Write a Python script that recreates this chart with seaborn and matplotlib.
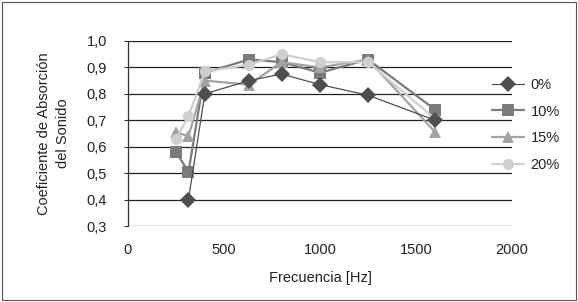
import pandas as pd
import matplotlib
matplotlib.use("Agg")
import matplotlib.pyplot as plt
import seaborn as sns
from matplotlib.ticker import FuncFormatter

# values
freq = [250, 315, 400, 630, 800, 1000, 1250, 1600]
freq_0 = [315, 400, 630, 800, 1000, 1250, 1600]
abs_0 = [0.40, 0.80, 0.85, 0.875, 0.835, 0.795, 0.70]
abs_10 = [0.58, 0.505, 0.88, 0.93, 0.92, 0.88, 0.93, 0.74]
abs_15 = [0.655, 0.64, 0.85, 0.835, 0.92, 0.90, 0.93, 0.655]
abs_20 = [0.63, 0.715, 0.885, 0.91, 0.95, 0.92, 0.92, 0.705]

labels = ["0%", "10%", "15%", "20%"]
series = {
    "0%": (freq_0, abs_0),
    "10%": (freq, abs_10),
    "15%": (freq, abs_15),
    "20%": (freq, abs_20),
}
colors = {"0%": "#4f4f4f", "10%": "#7b7b7b", "15%": "#a3a3a3", "20%": "#cfcfcf"}
markers = {"0%": "D", "10%": "s", "15%": "^", "20%": "o"}
widths = {"0%": 0.9, "10%": 1.6, "15%": 1.6, "20%": 1.6}
zorders = {"0%": 6, "10%": 3, "15%": 4, "20%": 5}

sns.set_style("white")
plt.rcParams["font.family"] = ["Liberation Sans", "DejaVu Sans"]
fs = 10.5

fig = plt.figure(figsize=(5.78, 3.02), dpi=100)
ax = fig.add_axes([128 / 578, 1 - 226 / 302, (512 - 128) / 578, (226 - 41) / 302])

for lab in labels:
    x, y = series[lab]
    df = pd.DataFrame({"Frecuencia": x, "Absorcion": y})
    sns.lineplot(data=df, x="Frecuencia", y="Absorcion", ax=ax,
                 color=colors[lab], marker=markers[lab], markersize=8,
                 markeredgewidth=0, linewidth=widths[lab], zorder=zorders[lab],
                 label=lab, clip_on=False)

ax.set_xlim(0, 2000)
ax.set_ylim(0.3, 1.0)
ax.set_xticks([0, 500, 1000, 1500, 2000])
ax.set_yticks([0.3, 0.4, 0.5, 0.6, 0.7, 0.8, 0.9, 1.0])
ax.yaxis.set_major_formatter(FuncFormatter(lambda v, p: f"{v:.1f}".replace(".", ",")))
ax.grid(axis="y", color="#222222", linewidth=0.9)
ax.grid(axis="x", visible=False)
for s in ["top", "right", "bottom"]:
    ax.spines[s].set_visible(False)
ax.spines["left"].set_color("#333333")
ax.spines["left"].set_linewidth(0.9)
ax.tick_params(axis="y", left=True, length=3, color="#333333", labelsize=fs, pad=12, labelcolor="#222222")
ax.tick_params(axis="x", bottom=False, labelsize=fs, pad=9, labelcolor="#222222")
ax.set_xlabel("Frecuencia [Hz]", fontsize=fs, color="#222222", labelpad=10)
ax.set_ylabel("Coeficiente de Absorción\ndel Sonido", fontsize=fs, color="#222222",
              labelpad=12, linespacing=1.45)

h, l = ax.get_legend_handles_labels()
ax.get_legend().remove()
order = [l.index(x) for x in labels]
fig.legend([h[i] for i in order], [l[i] for i in order], loc="center left",
           bbox_to_anchor=(486 / 578, 1 - 125 / 302), frameon=False, fontsize=fs,
           handlelength=2.2, labelspacing=0.88, handletextpad=0.45, borderaxespad=0)

# outer frame around the figure
fig.patches.append(plt.Rectangle((0.004, 0.005), 0.992, 0.99, transform=fig.transFigure,
                                 fill=False, edgecolor="#555555", linewidth=0.8))

fig.savefig("out.png", dpi=100)
